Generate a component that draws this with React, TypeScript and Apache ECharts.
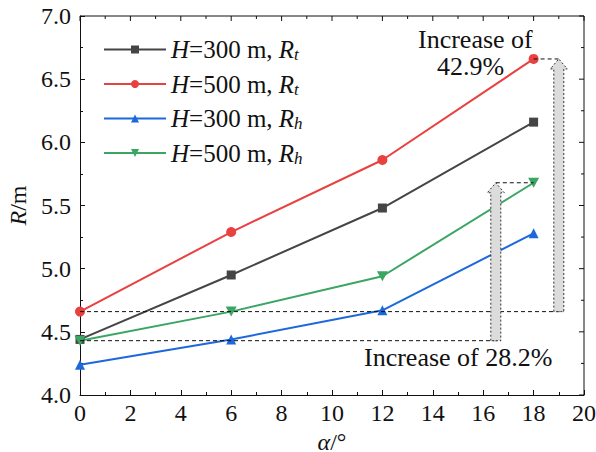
import React, { useEffect, useRef } from "react";
import * as echarts from "echarts";

const alpha = [0, 6, 12, 18];
const rtH300 = [4.44, 4.95, 5.48, 6.16];
const rtH500 = [4.66, 5.29, 5.86, 6.66];
const rhH300 = [4.24, 4.44, 4.67, 5.28];
const rhH500 = [4.43, 4.66, 4.94, 5.68];

const seriesNames = ["H=300 m, Rt", "H=500 m, Rt", "H=300 m, Rh", "H=500 m, Rh"];
const seriesColors = ["#454545", "#e8413f", "#1c68dc", "#3ba564"];
const seriesSymbols = ["rect", "circle", "triangle", "path://M0,0 L10,0 L5,9 Z"];
const legendLabels = [
  "{i|H}{n|=300 m, }{i|R}{s|t}",
  "{i|H}{n|=500 m, }{i|R}{s|t}",
  "{i|H}{n|=300 m, }{i|R}{s|h}",
  "{i|H}{n|=500 m, }{i|R}{s|h}",
];

const arrowSmall = [16.5, 4.43, 5.68, 18];
const arrowLarge = [19.0, 4.66, 6.66, 18];

const FONT = "Liberation Serif";
const FS = 24;
const LFS = 25;

export default function App() {
  const ref = useRef<HTMLDivElement>(null);
  useEffect(() => {
    const chart = echarts.init(ref.current!, null, { renderer: "svg" });
    const dataSets = [rtH300, rtH500, rhH300, rhH500];
    const txt = { fontFamily: FONT, fontSize: FS, color: "#111" };
    const ltxt = { fontFamily: FONT, fontSize: LFS, color: "#111" };
    const option: any = {
      animation: false,
      backgroundColor: "#ffffff",
      textStyle: { fontFamily: FONT },
      grid: { left: 80, right: 12, top: 16, bottom: 57, containLabel: false, outerBoundsMode: "none" },
      legend: {
        left: 98,
        top: 32,
        orient: "vertical",
        itemWidth: 62,
        itemHeight: 10,
        itemGap: 8.5,
        data: seriesNames,
        formatter: (name: string) => legendLabels[seriesNames.indexOf(name)],
        textStyle: {
          ...ltxt,
          rich: {
            i: { ...ltxt, fontStyle: "italic" },
            n: { ...ltxt },
            s: { ...ltxt, fontSize: 17, fontStyle: "italic", padding: [10, 0, 0, 0] },
          },
        },
      },
      xAxis: {
        type: "value",
        min: 0,
        max: 20,
        interval: 2,
        name: "{i|α}{n|/°}",
        nameLocation: "middle",
        nameGap: 28,
        nameTextStyle: {
          rich: {
            i: { ...txt, fontStyle: "italic" },
            n: { ...txt },
          },
        },
        axisLine: { show: true, lineStyle: { color: "#111", width: 1 } },
        axisTick: { show: true, inside: true, length: 5, lineStyle: { color: "#111" } },
        minorTick: { show: true, splitNumber: 2, length: 3, lineStyle: { color: "#111" } },
        splitLine: { show: false },
        axisLabel: { ...txt, margin: 6 },
      },
      yAxis: {
        type: "value",
        min: 4.0,
        max: 7.0,
        interval: 0.5,
        name: "{i|R}{n|/m}",
        nameLocation: "middle",
        nameGap: 46,
        nameRotate: 90,
        nameTextStyle: {
          rich: {
            i: { ...txt, fontStyle: "italic" },
            n: { ...txt },
          },
        },
        axisLine: { show: true, lineStyle: { color: "#111", width: 1 } },
        axisTick: { show: true, inside: true, length: 5, lineStyle: { color: "#111" } },
        minorTick: { show: true, splitNumber: 2, length: 3, lineStyle: { color: "#111" } },
        splitLine: { show: false },
        axisLabel: {
          ...txt,
          margin: 9,
          formatter: (v: number) => v.toFixed(1),
        },
      },
      series: seriesNames.map((name, i) => ({
        name,
        type: "line",
        data: alpha.map((a, k) => [a, dataSets[i][k]]),
        symbol: seriesSymbols[i],
        symbolSize: i === 0 ? 9 : i === 3 ? [11, 10] : 10,
        showSymbol: true,
        lineStyle: { color: seriesColors[i], width: 2 },
        itemStyle: { color: seriesColors[i] },
        z: 3,
      })),
    };
    chart.setOption(option);

    const px = (x: number, y: number) => chart.convertToPixel({ gridIndex: 0 }, [x, y]) as number[];
    const dashed = { stroke: "#111", lineWidth: 1, lineDash: [4, 3] };
    const graphics: any[] = [];
    const makeArrow = (a: number[]) => {
      const [ax, by, ty] = a;
      const b = px(ax, by);
      const t = px(ax, ty);
      const sw = 5, hw = 8.5, hh = 10;
      return {
        type: "polygon",
        z: 5,
        shape: {
          points: [
            [b[0] - sw, b[1]],
            [b[0] - sw, t[1] + hh],
            [b[0] - hw, t[1] + hh],
            [b[0], t[1]],
            [b[0] + hw, t[1] + hh],
            [b[0] + sw, t[1] + hh],
            [b[0] + sw, b[1]],
          ],
        },
        style: { fill: "#dcdcdc", stroke: "#333", lineWidth: 1, lineDash: [2, 2] },
      };
    };
    [arrowSmall, arrowLarge].forEach((a) => {
      const [ax, by, ty, pxv] = a;
      const p0 = px(0, by);
      const p1 = px(ax, by);
      graphics.push({ type: "line", z: 4, shape: { x1: p0[0], y1: p0[1], x2: p1[0] + 5, y2: p1[1] }, style: dashed });
      const q0 = px(Math.min(ax, pxv), ty);
      const q1 = px(Math.max(ax, pxv), ty);
      graphics.push({ type: "line", z: 4, shape: { x1: q0[0], y1: q0[1], x2: q1[0], y2: q1[1] }, style: dashed });
      graphics.push(makeArrow(a));
    });
    const annot = { fontFamily: FONT, fontSize: 26, fill: "#111" };
    graphics.push({ type: "text", left: 418, top: 26, z: 6, style: { text: "Increase of", ...annot } });
    graphics.push({ type: "text", left: 437, top: 53, z: 6, style: { text: "42.9%", ...annot } });
    graphics.push({ type: "text", left: 364, top: 344, z: 6, style: { text: "Increase of 28.2%", ...annot } });
    const tl = px(0, 7), br = px(20, 4);
    const solid = { stroke: "#111", lineWidth: 1 };
    graphics.push({ type: "line", z: 4, shape: { x1: tl[0], y1: tl[1], x2: br[0], y2: tl[1] }, style: solid });
    graphics.push({ type: "line", z: 4, shape: { x1: br[0], y1: tl[1], x2: br[0], y2: br[1] }, style: solid });
    for (let v = 0; v <= 20; v += 1) {
      const p = px(v, 7);
      const len = v % 2 === 0 ? 5 : 3;
      graphics.push({ type: "line", z: 4, shape: { x1: p[0], y1: p[1], x2: p[0], y2: p[1] + len }, style: solid });
    }
    for (let k = 0; k <= 12; k++) {
      const v = 4 + k * 0.25;
      const p = px(20, v);
      const len = k % 2 === 0 ? 5 : 3;
      graphics.push({ type: "line", z: 4, shape: { x1: p[0], y1: p[1], x2: p[0] - len, y2: p[1] }, style: solid });
    }
    chart.setOption({ graphic: graphics });

    return () => chart.dispose();
  }, []);
  return <div ref={ref} style={{ position: "absolute", left: 0, top: 0, width: 596, height: 452 }} />;
}
